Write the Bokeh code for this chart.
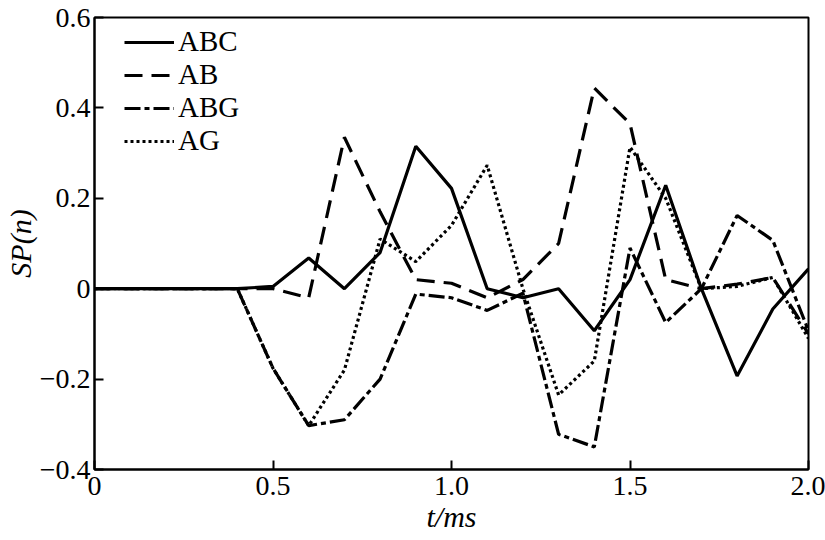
from bokeh.plotting import figure
from bokeh.models import FixedTicker, Legend, LegendItem
from bokeh.embed import file_html
from bokeh.resources import INLINE

# ---- data ----
t = [0.0, 0.1, 0.2, 0.3, 0.4, 0.5, 0.6, 0.7, 0.8, 0.9, 1.0,
     1.1, 1.2, 1.3, 1.4, 1.5, 1.6, 1.7, 1.8, 1.9, 2.0]
abc = [0, 0, 0, 0, 0, 0.005, 0.068, 0.0, 0.08, 0.315, 0.222,
       0.0, -0.02, 0.0, -0.093, 0.02, 0.229, 0.0, -0.193, -0.045, 0.044]
ab = [0, 0, 0, 0, 0, 0.0, -0.02, 0.335, 0.17, 0.02, 0.012,
      -0.02, 0.02, 0.1, 0.444, 0.365, 0.02, 0.0, 0.01, 0.025, -0.1]
abg = [0, 0, 0, 0, 0, -0.176, -0.303, -0.29, -0.2, -0.012, -0.02,
       -0.048, -0.01, -0.322, -0.35, 0.09, -0.075, 0.0, 0.162, 0.107, -0.093]
ag = [0, 0, 0, 0, 0, -0.176, -0.303, -0.18, 0.11, 0.06, 0.14,
      0.273, 0.0, -0.235, -0.16, 0.313, 0.2, 0.0, 0.005, 0.025, -0.11]

series_names = ["ABC", "AB", "ABG", "AG"]
x_ticks = [0, 0.5, 1.0, 1.5, 2.0]
x_tick_labels = ["0", "0.5", "1.0", "1.5", "2.0"]
y_ticks = [-0.4, -0.2, 0, 0.2, 0.4, 0.6]
y_tick_labels = ["\u22120.4", "\u22120.2", "0", "0.2", "0.4", "0.6"]
x_title = "t/ms"
y_title = "SP(n)"

FONT = "Liberation Serif"

p = figure(width=825, height=540, output_backend="svg", toolbar_location=None,
           x_range=(0, 2.0), y_range=(-0.4, 0.6),
           min_border_left=93, min_border_right=17, min_border_top=17, min_border_bottom=71)
p.background_fill_color = "white"
p.border_fill_color = "white"
p.outline_line_color = "black"
p.outline_line_width = 2
p.xgrid.visible = False
p.ygrid.visible = False

for ax in (p.xaxis[0], p.yaxis[0]):
    ax.axis_line_width = 2
    ax.major_tick_line_width = 2
    ax.major_tick_in = 9
    ax.major_tick_out = 0
    ax.minor_tick_line_color = None
    ax.major_label_text_font = FONT
    ax.major_label_text_font_size = "28px"
    ax.major_label_text_color = "black"
    ax.axis_label_text_font = FONT
    ax.axis_label_text_font_size = "30px"
    ax.axis_label_text_font_style = "italic"
    ax.axis_label_text_color = "black"

p.xaxis[0].ticker = FixedTicker(ticks=x_ticks)
p.xaxis[0].major_label_overrides = {v: s for v, s in zip(x_ticks, x_tick_labels)}
p.xaxis[0].major_label_standoff = 7
p.xaxis[0].axis_label = x_title
p.xaxis[0].axis_label_standoff = 2
p.yaxis[0].ticker = FixedTicker(ticks=y_ticks)
p.yaxis[0].major_label_overrides = {v: s for v, s in zip(y_ticks, y_tick_labels)}
p.yaxis[0].major_label_standoff = 4
p.yaxis[0].axis_label = y_title
p.yaxis[0].axis_label_standoff = 0

lw = 3.2
r1 = p.line(t, abc, line_color="black", line_width=lw)
r2 = p.line(t, ab, line_color="black", line_width=lw, line_dash="18 9")
r3 = p.line(t, abg, line_color="black", line_width=lw, line_dash="16 4 5 4")
r4 = p.line(t, ag, line_color="black", line_width=lw, line_dash="3 3")

legend = Legend(items=[LegendItem(label=n, renderers=[r]) for n, r in
                       zip(series_names, [r1, r2, r3, r4])],
                location=(30, 452 - 12 - 128))
legend.label_text_font = FONT
legend.label_text_font_size = "29px"
legend.label_text_color = "black"
legend.glyph_width = 50
legend.glyph_height = 32
legend.label_height = 32
legend.spacing = 0
legend.padding = 0
legend.margin = 0
legend.label_standoff = 4
legend.border_line_color = None
legend.background_fill_alpha = 0
p.add_layout(legend, "center")

open("out.html", "w").write(file_html(p, INLINE))
